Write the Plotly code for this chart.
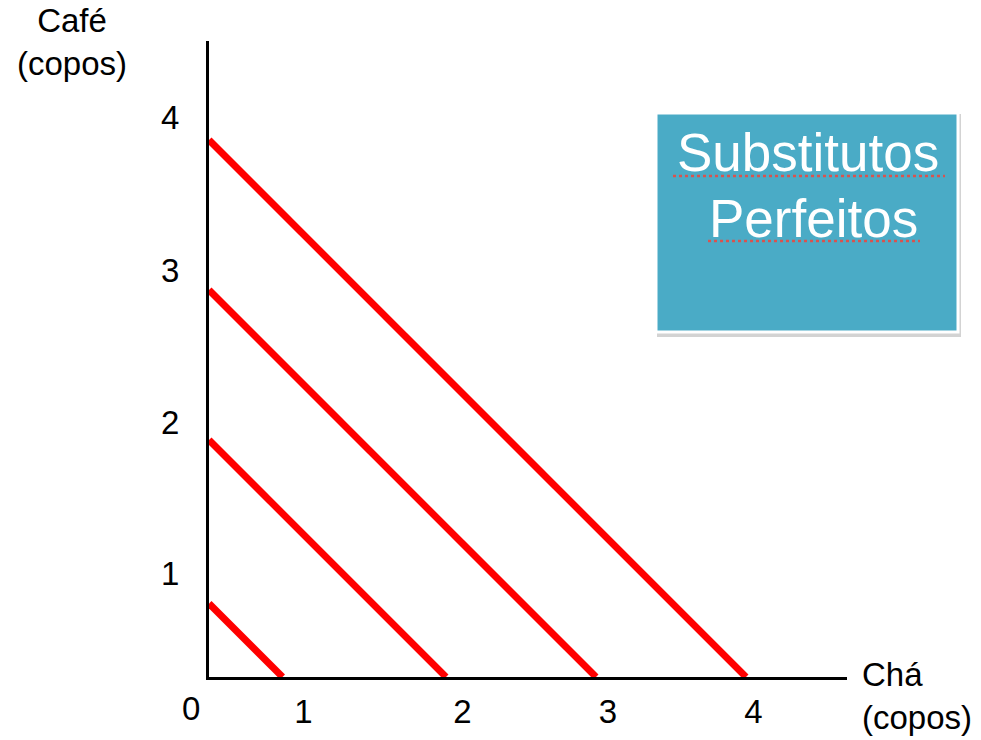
import plotly.graph_objects as go

# Data (unit = cups; origin at axis corner)
line_intercepts = [0.49, 1.58, 2.58, 3.58]       # each line: x + y = c
x_tick_vals = [0.63, 1.69, 2.66, 3.63]
x_tick_text = ["1", "2", "3", "4"]
y_tick_vals = [0.69, 1.70, 2.71, 3.73]
y_tick_text = ["1", "2", "3", "4"]
x_label = "Chá<br>(copos)"
y_label = "Café<br>(copos)"
box_title = ["Substitutos", "Perfeitos"]

W, H = 981, 740
L, R, T, B = 209, 134, 41, 63
pw, ph = W - L - R, H - T - B

def px(xp):
    return (xp - L) / pw

def py(yp):
    return (H - B - yp) / ph

FONT = "Liberation Sans, Arial, sans-serif"
FS = 33

fig = go.Figure()
for c in line_intercepts:
    fig.add_trace(go.Scatter(x=[0, c], y=[c, 0], mode="lines",
                             line=dict(color="#ff0000", width=7),
                             hoverinfo="skip", showlegend=False))

fig.update_layout(
    width=W, height=H,
    margin=dict(l=L, r=R, t=T, b=B, autoexpand=False),
    paper_bgcolor="white", plot_bgcolor="white",
    font=dict(family=FONT, size=FS, color="black"),
    showlegend=False,
)
fig.update_xaxes(range=[0, pw / 150], showgrid=False, zeroline=False,
                 showline=True, linecolor="black", linewidth=3,
                 tickvals=x_tick_vals, ticktext=x_tick_text,
                 ticks="", ticklabelstandoff=3, automargin=False,
                 tickfont=dict(family=FONT, size=FS, color="black"))
fig.update_yaxes(range=[0, ph / 150], showgrid=False, zeroline=False,
                 showline=True, linecolor="black", linewidth=3,
                 tickvals=y_tick_vals, ticktext=y_tick_text,
                 ticks="", ticklabelstandoff=20, automargin=False,
                 tickfont=dict(family=FONT, size=FS, color="black"))

# "0" at origin
fig.add_annotation(x=px(191), y=py(708), xref="paper", yref="paper",
                   text="0", showarrow=False, xanchor="center", yanchor="middle",
                   font=dict(family=FONT, size=FS, color="black"))
# axis titles
fig.add_annotation(x=px(72), y=py(0), xref="paper", yref="paper",
                   text=y_label, showarrow=False, xanchor="center", yanchor="top",
                   align="center", font=dict(family=FONT, size=FS, color="black"))
fig.add_annotation(x=px(860), y=py(654), xref="paper", yref="paper",
                   text=x_label, showarrow=False, xanchor="left", yanchor="top",
                   align="left", font=dict(family=FONT, size=FS, color="black"))

# title box with shadow
fig.add_shape(type="rect", xref="paper", yref="paper",
              x0=px(657), x1=px(961), y0=py(114), y1=py(337),
              fillcolor="rgba(110,110,110,0.3)", line=dict(width=0), layer="above")
fig.add_shape(type="rect", xref="paper", yref="paper",
              x0=px(656), x1=px(958), y0=py(113), y1=py(332),
              fillcolor="#4aabc6", line=dict(color="white", width=3), layer="above")
# spell-check style underlines
fig.add_shape(type="line", xref="paper", yref="paper",
              x0=px(673), x1=px(945), y0=py(176), y1=py(176),
              line=dict(color="#d9534f", width=2.5, dash="dot"), layer="above")
fig.add_shape(type="line", xref="paper", yref="paper",
              x0=px(708), x1=px(920), y0=py(241), y1=py(241),
              line=dict(color="#d9534f", width=2.5, dash="dot"), layer="above")
fig.add_annotation(x=px(808), y=py(152), xref="paper", yref="paper",
                   text=box_title[0], showarrow=False, xanchor="center", yanchor="middle",
                   font=dict(family=FONT, size=53, color="white"))
fig.add_annotation(x=px(813), y=py(218), xref="paper", yref="paper",
                   text=box_title[1], showarrow=False, xanchor="center", yanchor="middle",
                   font=dict(family=FONT, size=53, color="white"))

fig.write_html("out.html", config={"displayModeBar": False},
               post_script="document.body.style.margin='0';document.body.style.padding='0';")
